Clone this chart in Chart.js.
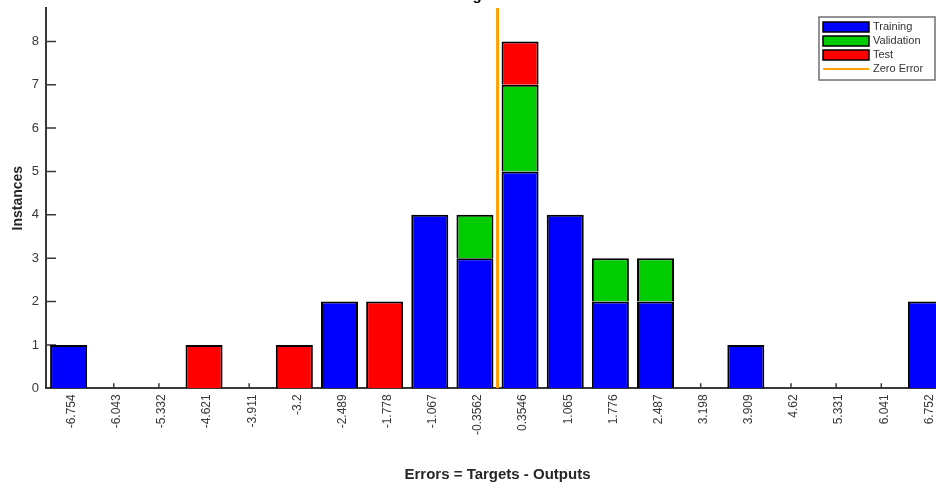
<!DOCTYPE html>
<html>
<head>
<meta charset="utf-8">
<title>Error Histogram</title>
<script src="https://cdn.jsdelivr.net/npm/chart.js@4.4.1/dist/chart.umd.min.js"></script>
<style>
html, body { margin: 0; padding: 0; background: #fff; overflow: hidden; }
#wrap { position: relative; width: 936px; height: 488px; overflow: hidden; }
#box { position: absolute; left: 0; top: -20px; width: 956px; height: 506px; }
</style>
</head>
<body>
<div id="wrap"><div id="box"><canvas id="hist"></canvas></div></div>
<script>
// Bin centres (as printed under the axis)
const binLabels = ['-6.754', '-6.043', '-5.332', '-4.621', '-3.911', '-3.2', '-2.489', '-1.778', '-1.067', '-0.3562',
                   '0.3546', '1.065', '1.776', '2.487', '3.198', '3.909', '4.62', '5.331', '6.041', '6.752'];

// Instances per bin
const trainingCounts   = [1, 0, 0, 0, 0, 0, 2, 0, 4, 3, 5, 4, 2, 2, 0, 1, 0, 0, 0, 2];
const validationCounts = [0, 0, 0, 0, 0, 0, 0, 0, 0, 1, 2, 0, 1, 1, 0, 0, 0, 0, 0, 0];
const testCounts       = [0, 0, 0, 1, 0, 1, 0, 2, 0, 0, 1, 0, 0, 0, 0, 0, 0, 0, 0, 0];

const zeroError = 0;
const yMax = 8.77;

const FONT = '"Liberation Sans", Arial, sans-serif';
const AXIS_COLOR = '#383838';

// linear axis matching the category bins, used for the zero error line
const centers = binLabels.map(Number);
const binWidth = (centers[centers.length - 1] - centers[0]) / (centers.length - 1);

// small inward tick marks like MATLAB axes
const inwardTicks = {
    id: 'inwardTicks',
    beforeDatasetsDraw(chart) {
        const { ctx, scales } = chart;
        const x = scales.x, y = scales.y;
        ctx.save();
        ctx.strokeStyle = AXIS_COLOR;
        ctx.lineWidth = 1.5;
        ctx.beginPath();
        y.ticks.forEach(t => {
            const py = y.getPixelForValue(t.value);
            ctx.moveTo(x.left, py);
            ctx.lineTo(x.left + 10, py);
        });
        binLabels.forEach((_, i) => {
            const px = x.getPixelForValue(i);
            ctx.moveTo(px, y.bottom);
            ctx.lineTo(px, y.bottom - 5);
        });
        ctx.stroke();
        ctx.restore();
    }
};

// legend box in the top right corner of the axes
const boxLegend = {
    id: 'boxLegend',
    afterDraw(chart) {
        const { ctx, chartArea } = chart;
        const w = 116, h = 63;
        const left = chartArea.right - w - 14;
        const top = chartArea.top + 9;
        ctx.save();
        ctx.fillStyle = '#fff';
        ctx.fillRect(left, top, w, h);
        ctx.strokeStyle = '#707070';
        ctx.lineWidth = 1.5;
        ctx.strokeRect(left, top, w, h);
        ctx.font = '11px ' + FONT;
        ctx.textBaseline = 'middle';
        chart.data.datasets.forEach((ds, i) => {
            const cy = top + 10 + i * 14;
            if (ds.type === 'line') {
                ctx.strokeStyle = ds.borderColor;
                ctx.lineWidth = 2;
                ctx.beginPath();
                ctx.moveTo(left + 4, cy);
                ctx.lineTo(left + 50, cy);
                ctx.stroke();
            } else {
                ctx.fillStyle = ds.backgroundColor;
                ctx.fillRect(left + 4, cy - 5, 46, 10);
                ctx.strokeStyle = '#000';
                ctx.lineWidth = 1.5;
                ctx.strokeRect(left + 4, cy - 5, 46, 10);
            }
            ctx.fillStyle = '#333';
            ctx.fillText(ds.label, left + 54, cy);
        });
        ctx.restore();
    }
};

const barStyle = { grouped: false, borderColor: '#000', borderWidth: 2, barPercentage: 0.82, categoryPercentage: 1.0 };

new Chart(document.getElementById('hist'), {
    type: 'bar',
    data: {
        labels: binLabels,
        datasets: [
            { label: 'Training', data: trainingCounts, backgroundColor: '#0000FF', ...barStyle },
            { label: 'Validation', data: validationCounts, backgroundColor: '#00CC00', ...barStyle },
            { label: 'Test', data: testCounts, backgroundColor: '#FF0000', ...barStyle },
            {
                type: 'line',
                label: 'Zero Error',
                data: [{ x: zeroError, y: 0 }, { x: zeroError, y: yMax }],
                xAxisID: 'x2',
                yAxisID: 'y2',
                borderColor: '#FFA000',
                borderWidth: 3,
                pointRadius: 0,
                order: -1
            }
        ]
    },
    options: {
        responsive: true,
        maintainAspectRatio: false,
        animation: false,
        layout: { padding: { top: 7, right: 7, left: 0, bottom: 0 } },
        plugins: {
            legend: { display: false },
            tooltip: { enabled: false },
            title: {
                display: true,
                fullSize: false,
                text: 'Error Histogram with 20 Bins',
                color: '#000',
                font: { family: FONT, size: 15, weight: 'bold' },
                padding: { top: 0, bottom: 3 }
            }
        },
        scales: {
            x: {
                stacked: true,
                offset: true,
                grid: { display: false, drawTicks: false },
                border: { display: true, color: AXIS_COLOR, width: 2 },
                ticks: {
                    autoSkip: false, minRotation: 90, maxRotation: 90, padding: 6, labelOffset: 3,
                    color: AXIS_COLOR, font: { family: FONT, size: 12 }
                },
                title: {
                    display: true,
                    text: 'Errors = Targets - Outputs',
                    color: '#262626',
                    font: { family: FONT, size: 15, weight: 'bold' },
                    padding: { top: 25, bottom: 2 }
                }
            },
            x2: {
                type: 'linear',
                display: false,
                min: centers[0] - binWidth / 2,
                max: centers[centers.length - 1] + binWidth / 2
            },
            y: {
                stacked: true,
                min: 0,
                max: yMax,
                afterBuildTicks: scale => {
                    scale.ticks = scale.ticks.filter(t => Number.isInteger(t.value));
                },
                grid: { display: false, drawTicks: false },
                border: { display: true, color: AXIS_COLOR, width: 2 },
                ticks: { stepSize: 1, padding: 7, color: AXIS_COLOR, font: { family: FONT, size: 13 } },
                title: {
                    display: true,
                    text: 'Instances',
                    color: '#262626',
                    font: { family: FONT, size: 14, weight: 'bold' },
                    padding: { top: 10, bottom: -2 }
                }
            },
            y2: {
                display: false,
                min: 0,
                max: yMax
            }
        }
    },
    plugins: [inwardTicks, boxLegend]
});
</script>
</body>
</html>
